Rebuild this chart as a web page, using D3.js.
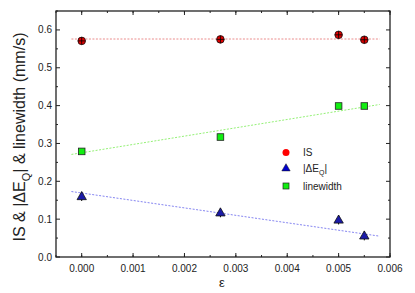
<!DOCTYPE html>
<html lang="en">
<head>
    <meta charset="UTF-8">
    <title>IS, dEQ and linewidth vs epsilon</title>
    <style>
        body { margin: 0; padding: 0; background: #ffffff; overflow: hidden; }
        svg { display: block; font-family: Arial, 'Liberation Sans', sans-serif; }
    </style>
    <script src="https://d3js.org/d3.v7.min.js"></script>
</head>
<body>
    <div id="chart"></div>
    <script>
        // Data
        const eps = [0.0, 0.0027, 0.005, 0.0055];
        const isVals = [0.571, 0.575, 0.587, 0.574];
        const isErr = [0.008, 0.008, 0.008, 0.008];
        const dEqVals = [0.160, 0.117, 0.098, 0.056];
        const dEqErr = [0.012, 0.012, 0.012, 0.012];
        const lwVals = [0.279, 0.317, 0.399, 0.399];

        // linear fits (endpoints in data units)
        const fitX = [-0.0002, 0.0058];
        const isFit = [0.576, 0.576];
        const dEqFit = [0.173, 0.055];
        const lwFit = [0.271, 0.403];

        const xTicks = [0, 0.001, 0.002, 0.003, 0.004, 0.005, 0.006];
        const yTicks = [0, 0.1, 0.2, 0.3, 0.4, 0.5, 0.6];

        const width = 415, height = 293;
        const margin = { top: 11, right: 25, bottom: 36, left: 56 };

        const svg = d3.select("#chart").append("svg")
            .attr("width", width)
            .attr("height", height);

        const x = d3.scaleLinear().domain([-0.0005, 0.006]).range([margin.left, width - margin.right]);
        const y = d3.scaleLinear().domain([0, 0.65]).range([height - margin.bottom, margin.top]);

        const x0 = margin.left, x1 = width - margin.right;
        const y0 = height - margin.bottom, y1 = margin.top;

        // minor ticks
        const xMinor = d3.range(-0.0005, 0.00601, 0.0005);
        const yMinor = d3.range(0.05, 0.651, 0.1);

        const axisG = svg.append("g").attr("stroke", "#222");
        xTicks.forEach(t => {
            axisG.append("line").attr("x1", x(t)).attr("x2", x(t)).attr("y1", y0).attr("y2", y0 - 4);
            axisG.append("line").attr("x1", x(t)).attr("x2", x(t)).attr("y1", y1).attr("y2", y1 + 4);
        });
        xMinor.forEach(t => {
            axisG.append("line").attr("x1", x(t)).attr("x2", x(t)).attr("y1", y0).attr("y2", y0 - 2);
            axisG.append("line").attr("x1", x(t)).attr("x2", x(t)).attr("y1", y1).attr("y2", y1 + 2);
        });
        yTicks.forEach(t => {
            axisG.append("line").attr("y1", y(t)).attr("y2", y(t)).attr("x1", x0).attr("x2", x0 + 4);
            axisG.append("line").attr("y1", y(t)).attr("y2", y(t)).attr("x1", x1).attr("x2", x1 - 4);
        });
        yMinor.forEach(t => {
            axisG.append("line").attr("y1", y(t)).attr("y2", y(t)).attr("x1", x0).attr("x2", x0 + 2);
            axisG.append("line").attr("y1", y(t)).attr("y2", y(t)).attr("x1", x1).attr("x2", x1 - 2);
        });

        // frame
        svg.append("rect")
            .attr("x", x0).attr("y", y1)
            .attr("width", x1 - x0).attr("height", y0 - y1)
            .attr("fill", "none")
            .attr("stroke", "#222")
            .attr("stroke-width", 1.3);

        // tick labels
        svg.append("g").selectAll("text")
            .data(xTicks)
            .join("text")
            .attr("x", d => x(d))
            .attr("y", y0 + 15)
            .attr("text-anchor", "middle")
            .attr("font-size", 10)
            .attr("fill", "#222")
            .text(d => d3.format(".3f")(d));

        svg.append("g").selectAll("text")
            .data(yTicks)
            .join("text")
            .attr("x", x0 - 4)
            .attr("y", d => y(d) + 3.5)
            .attr("text-anchor", "end")
            .attr("font-size", 10)
            .attr("fill", "#222")
            .text(d => d3.format(".1f")(d));

        // axis titles
        svg.append("text")
            .attr("x", (x0 + x1) / 2 - 1)
            .attr("y", height - 6)
            .attr("text-anchor", "middle")
            .attr("font-size", 13)
            .attr("fill", "#222")
            .text("ε");

        const yt = svg.append("text")
            .attr("transform", `translate(25,${(y0 + y1) / 2 + 3}) rotate(-90)`)
            .attr("text-anchor", "middle")
            .attr("font-size", 16)
            .attr("fill", "#222");
        yt.append("tspan").text("IS & |ΔE");
        yt.append("tspan").attr("font-size", 11).attr("dy", 5).text("Q");
        yt.append("tspan").attr("dy", -5).text("| & linewidth (mm/s)");

        // fit lines
        const fits = [
            { vals: isFit, color: "#e88080" },
            { vals: lwFit, color: "#88ee66" },
            { vals: dEqFit, color: "#7777ee" }
        ];
        svg.append("g").selectAll("line")
            .data(fits)
            .join("line")
            .attr("x1", x(fitX[0])).attr("x2", x(fitX[1]))
            .attr("y1", d => y(d.vals[0])).attr("y2", d => y(d.vals[1]))
            .attr("stroke", d => d.color)
            .attr("stroke-width", 0.9)
            .attr("stroke-dasharray", "2,1.5");

        // IS points
        const isG = svg.append("g");
        eps.forEach((e, i) => {
            isG.append("line")
                .attr("x1", x(e)).attr("x2", x(e))
                .attr("y1", y(isVals[i] - isErr[i])).attr("y2", y(isVals[i] + isErr[i]))
                .attr("stroke", "#000").attr("stroke-width", 1);
            isG.append("circle")
                .attr("cx", x(e)).attr("cy", y(isVals[i])).attr("r", 3.8)
                .attr("fill", "#e00000").attr("stroke", "#111").attr("stroke-width", 0.8);
            isG.append("line")
                .attr("x1", x(e) - 3.8).attr("x2", x(e) + 3.8)
                .attr("y1", y(isVals[i])).attr("y2", y(isVals[i]))
                .attr("stroke", "#000").attr("stroke-width", 0.8);
            isG.append("line")
                .attr("x1", x(e)).attr("x2", x(e))
                .attr("y1", y(isVals[i]) - 3.8).attr("y2", y(isVals[i]) + 3.8)
                .attr("stroke", "#000").attr("stroke-width", 0.8);
        });

        // linewidth points
        svg.append("g").selectAll("rect")
            .data(eps)
            .join("rect")
            .attr("x", d => x(d) - 3.3)
            .attr("y", (d, i) => y(lwVals[i]) - 3.3)
            .attr("width", 6.6).attr("height", 6.6)
            .attr("fill", "#11ee11")
            .attr("stroke", "#222").attr("stroke-width", 0.8);

        // dEQ points
        const tri = d3.symbol().type(d3.symbolTriangle).size(38);
        const dG = svg.append("g");
        eps.forEach((e, i) => {
            dG.append("line")
                .attr("x1", x(e)).attr("x2", x(e))
                .attr("y1", y(dEqVals[i] - dEqErr[i])).attr("y2", y(dEqVals[i] + dEqErr[i]))
                .attr("stroke", "#000").attr("stroke-width", 1);
            dG.append("path")
                .attr("d", tri)
                .attr("transform", `translate(${x(e)},${y(dEqVals[i]) + 0.5})`)
                .attr("fill", "#1a1aa8").attr("stroke", "#111").attr("stroke-width", 0.8);
        });

        // legend
        const lx = 286, lt = 303;
        const leg = svg.append("g");
        leg.append("circle").attr("cx", lx).attr("cy", 152.5).attr("r", 3.5).attr("fill", "#ff0000");
        leg.append("text").attr("x", lt).attr("y", 156).attr("font-size", 10).attr("fill", "#222").text("IS");
        leg.append("path").attr("d", d3.symbol().type(d3.symbolTriangle).size(30))
            .attr("transform", `translate(${lx},168.5)`).attr("fill", "#0000cc").attr("stroke", "#111").attr("stroke-width", 0.5);
        const dl = leg.append("text").attr("x", lt).attr("y", 172).attr("font-size", 10).attr("fill", "#222");
        dl.append("tspan").text("|ΔE");
        dl.append("tspan").attr("font-size", 7).attr("dy", 3).text("Q");
        dl.append("tspan").attr("dy", -3).text("|");
        leg.append("rect").attr("x", lx - 3).attr("y", 183).attr("width", 6).attr("height", 6)
            .attr("fill", "#11ee11").attr("stroke", "#222").attr("stroke-width", 0.7);
        leg.append("text").attr("x", lt).attr("y", 190).attr("font-size", 10).attr("fill", "#222").text("linewidth");
    </script>
</body>
</html>
